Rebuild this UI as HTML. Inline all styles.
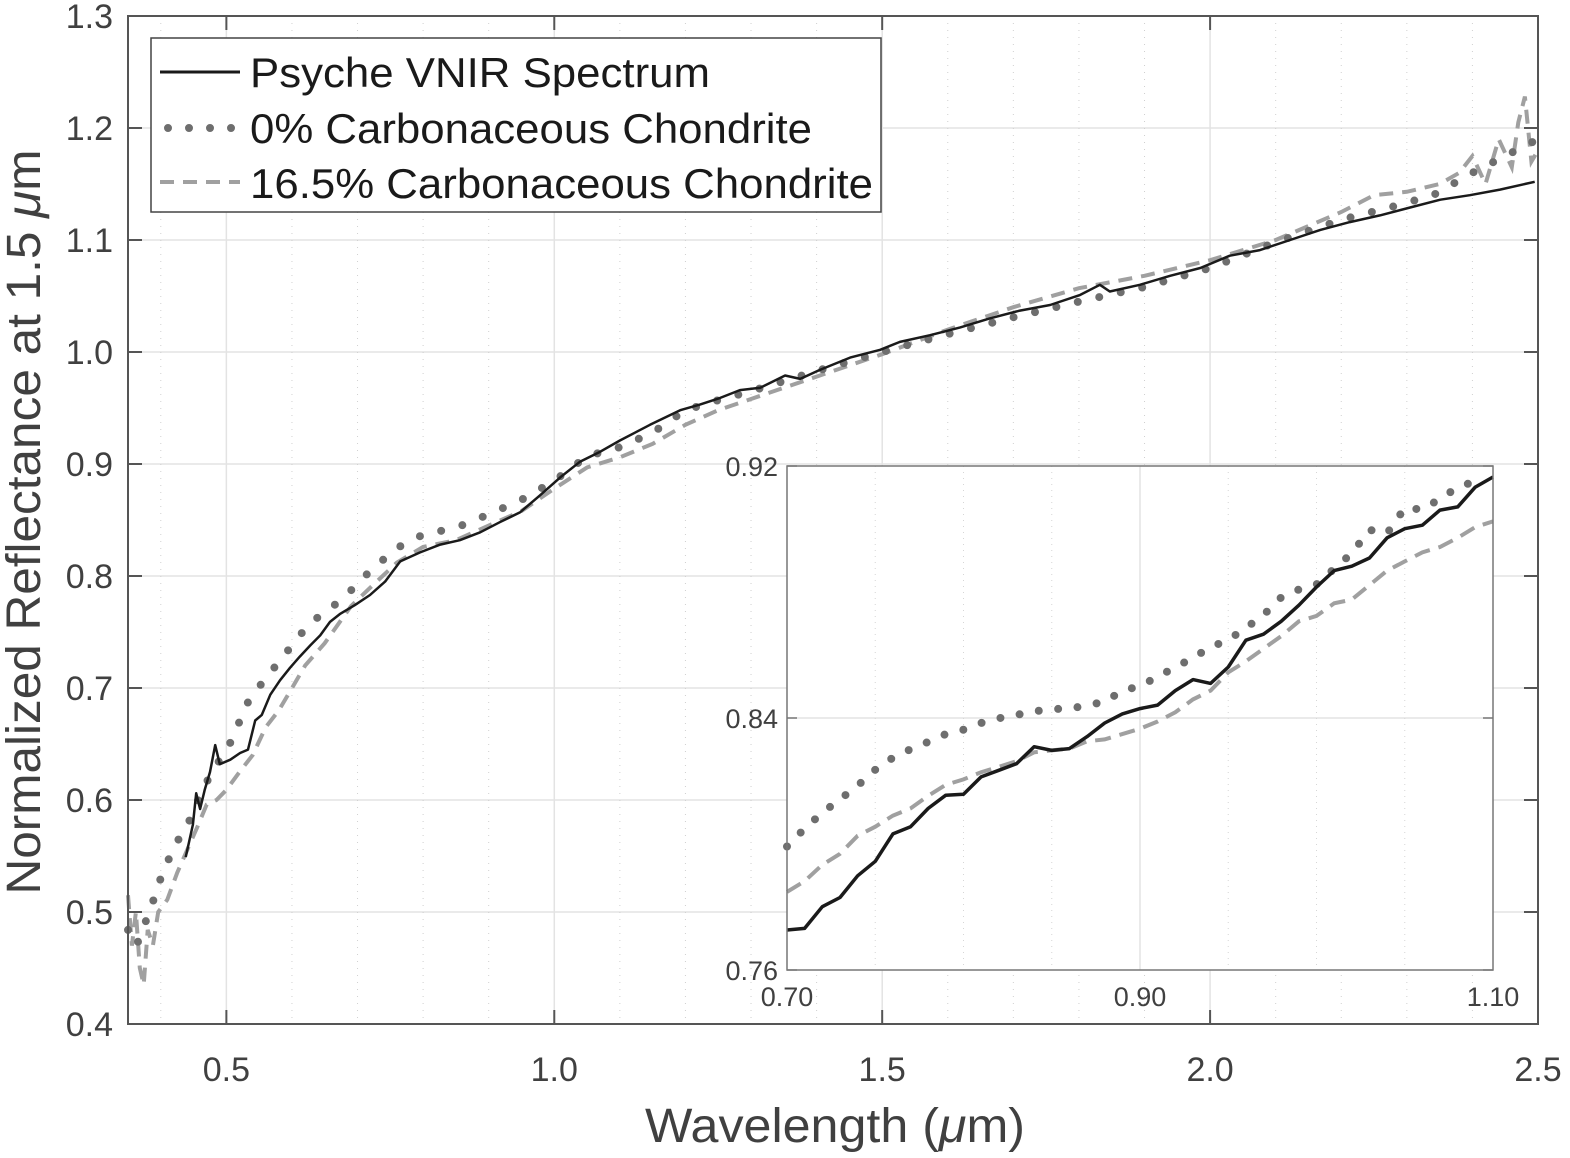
<!DOCTYPE html>
<html><head><meta charset="utf-8"><style>
html,body{margin:0;padding:0;background:#fff;}
svg{display:block;font-family:"Liberation Sans",sans-serif;}
</style></head><body>
<svg id="chart" width="1570" height="1158" viewBox="0 0 1570 1158" xmlns="http://www.w3.org/2000/svg">
<rect x="0" y="0" width="1570" height="1158" fill="#fff"/>
<g id="main-grid"></g>
<g id="main-series"></g>
<rect x="128" y="16" width="1410" height="1008" fill="none" stroke="#555" stroke-width="2"/>
<g id="main-ticks"></g>
<text x="835" y="1142" font-size="48" fill="#404040" text-anchor="middle" textLength="380" lengthAdjust="spacingAndGlyphs">Wavelength (<tspan font-style="italic">μ</tspan>m)</text>
<text transform="translate(40,522) rotate(-90)" font-size="48" fill="#404040" text-anchor="middle" textLength="745" lengthAdjust="spacingAndGlyphs">Normalized Reflectance at 1.5 <tspan font-style="italic">μ</tspan>m</text>
<g>
<rect x="151" y="38" width="730" height="174" fill="#fff" stroke="#444" stroke-width="1.5"/>
<line x1="160" y1="72" x2="240" y2="72" stroke="#1a1a1a" stroke-width="3"/>
<text x="250" y="87" font-size="42" fill="#1a1a1a" textLength="460" lengthAdjust="spacingAndGlyphs">Psyche VNIR Spectrum</text>
<line x1="168" y1="128" x2="236" y2="128" stroke="#6e6e6e" stroke-width="8" stroke-linecap="round" stroke-dasharray="0 21"/>
<text x="250" y="143" font-size="42" fill="#1a1a1a" textLength="562" lengthAdjust="spacingAndGlyphs">0% Carbonaceous Chondrite</text>
<line x1="160" y1="182" x2="240" y2="182" stroke="#a0a0a0" stroke-width="4" stroke-dasharray="14 9"/>
<text x="250" y="198" font-size="42" fill="#1a1a1a" textLength="623" lengthAdjust="spacingAndGlyphs">16.5% Carbonaceous Chondrite</text>
</g>
<g>
<rect x="787" y="466" width="706" height="504" fill="#fff"/>
<g id="inset-grid"></g>
<g id="inset-series"></g>
<rect x="787" y="466" width="706" height="504" fill="none" stroke="#777" stroke-width="1.5"/>
<g id="inset-ticks"></g>
</g>
</svg>
<script>
// ---- Main chart data ----
const psycheW = [0.438,0.449,0.454,0.460,0.467,0.475,0.483,0.490,0.506,0.521,0.533,0.544,0.554,0.567,0.582,0.597,0.612,0.628,0.643,0.658,0.673,0.696,0.719,0.742,0.765,0.795,0.826,0.856,0.887,0.917,0.948,0.978,1.009,1.039,1.070,1.100,1.146,1.192,1.222,1.253,1.283,1.314,1.352,1.375,1.405,1.451,1.497,1.527,1.573,1.619,1.664,1.710,1.756,1.802,1.832,1.847,1.893,1.939,1.985,2.030,2.076,2.122,2.168,2.213,2.259,2.305,2.351,2.396,2.442,2.495];
const psycheV = [0.549,0.578,0.606,0.592,0.609,0.625,0.649,0.632,0.636,0.642,0.645,0.671,0.676,0.694,0.707,0.718,0.728,0.738,0.747,0.759,0.766,0.774,0.783,0.795,0.813,0.821,0.828,0.832,0.839,0.848,0.857,0.872,0.888,0.902,0.911,0.921,0.935,0.948,0.953,0.959,0.966,0.968,0.979,0.976,0.984,0.995,1.002,1.009,1.015,1.022,1.030,1.037,1.042,1.051,1.060,1.054,1.060,1.068,1.075,1.086,1.091,1.100,1.109,1.116,1.122,1.129,1.136,1.140,1.145,1.152];
const cc0W = [0.35,0.363,0.376,0.389,0.401,0.415,0.428,0.441,0.457,0.475,0.505,0.535,0.566,0.596,0.627,0.657,0.688,0.72,0.76,0.80,0.85,0.90,0.95,1.00,1.05,1.10,1.15,1.20,1.25,1.30,1.40,1.50,1.60,1.70,1.80,1.90,2.00,2.10,2.20,2.28,2.34,2.40,2.45,2.50];
const cc0V = [0.484,0.470,0.490,0.511,0.532,0.551,0.566,0.578,0.600,0.622,0.650,0.690,0.713,0.735,0.758,0.770,0.786,0.805,0.825,0.837,0.843,0.855,0.868,0.885,0.907,0.915,0.928,0.948,0.957,0.965,0.983,1.000,1.016,1.031,1.045,1.058,1.075,1.098,1.118,1.130,1.140,1.160,1.175,1.190];
const cc16W = [0.35,0.356,0.362,0.368,0.374,0.380,0.388,0.396,0.41,0.425,0.44,0.455,0.47,0.485,0.50,0.52,0.54,0.56,0.58,0.60,0.62,0.65,0.69,0.72,0.76,0.80,0.85,0.90,0.95,1.00,1.05,1.10,1.15,1.20,1.25,1.30,1.40,1.50,1.60,1.70,1.80,1.90,2.00,2.10,2.20,2.25,2.30,2.35,2.38,2.40,2.42,2.44,2.46,2.47,2.48,2.49,2.50];
const cc16V = [0.515,0.470,0.500,0.450,0.435,0.484,0.470,0.500,0.511,0.535,0.555,0.575,0.596,0.600,0.609,0.625,0.640,0.665,0.680,0.700,0.720,0.740,0.773,0.790,0.812,0.826,0.832,0.845,0.858,0.878,0.897,0.906,0.918,0.935,0.948,0.958,0.978,0.998,1.020,1.040,1.057,1.068,1.082,1.100,1.125,1.140,1.143,1.150,1.160,1.175,1.150,1.190,1.165,1.205,1.228,1.170,1.180];
const mainXTicks = [0.5,1.0,1.5,2.0,2.5];
const mainXTickLabels = ["0.5","1.0","1.5","2.0","2.5"];
const mainYTicks = [0.4,0.5,0.6,0.7,0.8,0.9,1.0,1.1,1.2,1.3];
const mainYTickLabels = ["0.4","0.5","0.6","0.7","0.8","0.9","1.0","1.1","1.2","1.3"];
const mainXMinor = [0.4,0.6,0.7,0.8,0.9,1.1,1.2,1.3,1.4,1.6,1.7,1.8,1.9,2.1,2.2,2.3,2.4];

// ---- Inset data ----
const insetPsycheV = [0.7727,0.7732,0.7801,0.7830,0.7899,0.7945,0.8032,0.8055,0.8113,0.8155,0.8158,0.8213,0.8234,0.8255,0.8309,0.8297,0.8303,0.8341,0.8384,0.8413,0.8430,0.8441,0.8487,0.8522,0.8510,0.8562,0.8647,0.8666,0.8707,0.8758,0.8816,0.8868,0.8882,0.8908,0.8972,0.9001,0.9012,0.9060,0.9070,0.9133,0.9165];
const insetCC0V = [0.7992,0.8049,0.8099,0.8142,0.8185,0.8236,0.8274,0.8301,0.8324,0.8349,0.8363,0.8384,0.8399,0.8410,0.8421,0.8429,0.8429,0.8441,0.8451,0.8487,0.8501,0.8531,0.8561,0.8591,0.8625,0.8648,0.8686,0.8727,0.8783,0.8808,0.8824,0.8874,0.8923,0.8997,0.8986,0.9067,0.9062,0.9096,0.9132,0.9152];
const insetCC16V = [0.7848,0.7882,0.7934,0.7969,0.8026,0.8055,0.8090,0.8113,0.8153,0.8188,0.8205,0.8228,0.8245,0.8263,0.8291,0.8297,0.8303,0.8326,0.8332,0.8349,0.8366,0.8389,0.8418,0.8459,0.8487,0.8545,0.8580,0.8620,0.8660,0.8707,0.8724,0.8764,0.8776,0.8822,0.8868,0.8897,0.8926,0.8943,0.8972,0.9006,0.9024];
const insetStartW = 0.70;
const insetStepW = 0.01;
const insetXTicks = [0.70,0.90,1.10];
const insetXTickLabels = ["0.70","0.90","1.10"];
const insetYTicks = [0.76,0.84,0.92];
const insetYTickLabels = ["0.76","0.84","0.92"];
const insetXMinor = [0.75,0.80,0.85,0.95,1.00,1.05];

const NS = "http://www.w3.org/2000/svg";
function mk(tag, attrs, parent){const e=document.createElementNS(NS,tag);for(const k in attrs)e.setAttribute(k,attrs[k]);parent.appendChild(e);return e;}
const mx = w => 128 + (w-0.35)/2.15*1410;
const my = v => 1024 - (v-0.4)/0.9*1008;
const ix = w => 787 + (w-0.70)/0.40*706;
const iy = v => 970 - (v-0.76)/0.16*504;

const mg = document.getElementById('main-grid');
mainYTicks.forEach(v=>{const l=mk('line',{x1:128,x2:1538,y1:my(v),y2:my(v),stroke:'#e3e3e3','stroke-width':1.5},mg);

});
mainXTicks.forEach(w=>{const l=mk('line',{x1:mx(w),x2:mx(w),y1:16,y2:1024,stroke:'#e3e3e3','stroke-width':1.5},mg);

});
mainXMinor.forEach(w=>{const l=mk('line',{x1:mx(w),x2:mx(w),y1:16,y2:1024,stroke:'#d0d0d0','stroke-width':1,'stroke-dasharray':'1 6'},mg);

});

const mt = document.getElementById('main-ticks');
mainYTicks.forEach((v,i)=>{
 const t=mk('line',{x1:128,x2:142,y1:my(v),y2:my(v),stroke:'#555','stroke-width':2},mt);
 
 
 const t2=mk('line',{x1:1524,x2:1538,y1:my(v),y2:my(v),stroke:'#555','stroke-width':2},mt);
 
 
 const tx=mk('text',{x:113,y:my(v)+12,'font-size':34,fill:'#404040','text-anchor':'end'},mt);
 tx.textContent=mainYTickLabels[i];
 
 
});
mainXTicks.forEach((w,i)=>{
 const t=mk('line',{x1:mx(w),x2:mx(w),y1:1010,y2:1024,stroke:'#555','stroke-width':2},mt);
 
 
 const t2=mk('line',{x1:mx(w),x2:mx(w),y1:16,y2:30,stroke:'#555','stroke-width':2},mt);
 
 
 const tx=mk('text',{x:mx(w),y:1081,'font-size':34,fill:'#404040','text-anchor':'middle'},mt);
 tx.textContent=mainXTickLabels[i];
 
 
});

function pathFrom(ws,vs,fx,fy){return ws.map((w,i)=>(i?'L':'M')+fx(w).toFixed(1)+' '+fy(vs[i]).toFixed(1)).join(' ');}
const ms = document.getElementById('main-series');
const p16=mk('path',{d:pathFrom(cc16W,cc16V,mx,my),fill:'none',stroke:'#a0a0a0','stroke-width':4,'stroke-dasharray':'14 9'},ms);


const p0=mk('path',{d:pathFrom(cc0W,cc0V,mx,my),fill:'none',stroke:'#6e6e6e','stroke-width':8,'stroke-linecap':'round','stroke-dasharray':'0 22'},ms);


const pp=mk('path',{d:pathFrom(psycheW,psycheV,mx,my),fill:'none',stroke:'#1a1a1a','stroke-width':2.5,'stroke-linejoin':'round'},ms);



// inset
const ig = document.getElementById('inset-grid');
const ly=mk('line',{x1:787,x2:1493,y1:iy(0.84),y2:iy(0.84),stroke:'#e3e3e3','stroke-width':1.5},ig);


const lx=mk('line',{x1:ix(0.90),x2:ix(0.90),y1:466,y2:970,stroke:'#e3e3e3','stroke-width':1.5},ig);


insetXMinor.forEach(w=>{const l=mk('line',{x1:ix(w),x2:ix(w),y1:466,y2:970,stroke:'#d6d6d6','stroke-width':1,'stroke-dasharray':'1 5'},ig);

});

const it = document.getElementById('inset-ticks');
insetYTicks.forEach((v,i)=>{
 const t=mk('line',{x1:787,x2:797,y1:iy(v),y2:iy(v),stroke:'#777','stroke-width':1.5},it);
 
 
 const t2=mk('line',{x1:1483,x2:1493,y1:iy(v),y2:iy(v),stroke:'#777','stroke-width':1.5},it);
 
 
 const tx=mk('text',{x:778,y:iy(v)+10,'font-size':27,fill:'#404040','text-anchor':'end'},it);
 tx.textContent=insetYTickLabels[i];
 
 
});
insetXTicks.forEach((w,i)=>{
 const tx=mk('text',{x:ix(w),y:1006,'font-size':27,fill:'#404040','text-anchor':'middle'},it);
 tx.textContent=insetXTickLabels[i];
 
 
});

const is = document.getElementById('inset-series');
function insetPath(vs){return vs.map((v,i)=>(i?'L':'M')+ix(insetStartW+i*insetStepW).toFixed(1)+' '+iy(v).toFixed(1)).join(' ');}
const i16=mk('path',{d:insetPath(insetCC16V),fill:'none',stroke:'#a0a0a0','stroke-width':4,'stroke-dasharray':'16 9'},is);


const i0=mk('path',{d:insetPath(insetCC0V),fill:'none',stroke:'#6e6e6e','stroke-width':8,'stroke-linecap':'round','stroke-dasharray':'0 19.5'},is);


const ip=mk('path',{d:insetPath(insetPsycheV),fill:'none',stroke:'#1a1a1a','stroke-width':3.5,'stroke-linejoin':'round'},is);


</script>
</body></html>
